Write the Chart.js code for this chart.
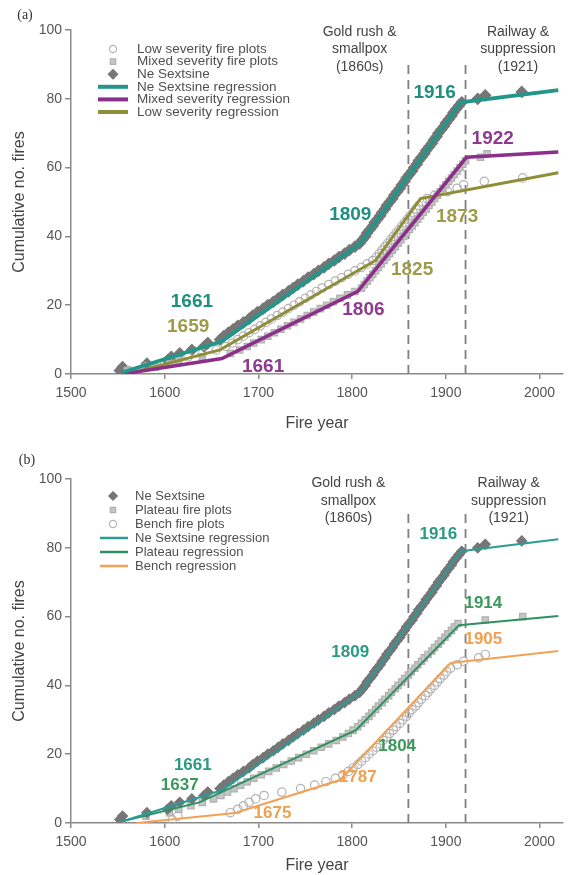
<!DOCTYPE html>
<html>
<head>
<meta charset="utf-8">
<script src="https://cdn.jsdelivr.net/npm/chart.js@4.4.1/dist/chart.umd.min.js"></script>
<style>
body{margin:0;background:#fff;}
canvas{display:block;}
</style>
</head>
<body>
<canvas id="chartA" width="572" height="437"></canvas>
<canvas id="chartB" width="572" height="438"></canvas>
<script>
'use strict';
// cumulative fire counts [fire year, cumulative no.]
var neSextsine = [[1552,1],[1555,2],[1581,3],[1603,4],[1607,5],[1616,6],[1629,7],[1642,8],[1646,9],[1659,10],
  [1663,11],[1668,12],[1673,13],[1678,14],[1684,15],[1690,16],[1694,17],[1699,18],[1705,19],[1710,20],
  [1716,21],[1721,22],[1726,23],[1732,24],[1737,25],[1742,26],[1748,27],[1753,28],[1759,29],[1764,30],
  [1770,31],[1775,32],[1781,33],[1786,34],[1792,35],[1797,36],[1803,37],[1808,38],[1811,39],[1814,40],
  [1816,41],[1819,42],[1822,43],[1824,44],[1827,45],[1830,46],[1832,47],[1835,48],[1837,49],[1840,50],
  [1843,51],[1845,52],[1848,53],[1851,54],[1853,55],[1856,56],[1858,57],[1861,58],[1864,59],[1866,60],
  [1869,61],[1871,62],[1874,63],[1877,64],[1879,65],[1882,66],[1885,67],[1887,68],[1890,69],[1892,70],
  [1895,71],[1898,72],[1900,73],[1903,74],[1906,75],[1908,76],[1911,77],[1914,78],[1917,79],[1934,80],
  [1942,81],[1981,82]];
var mixedPlots = [[1560,1],[1590,2],[1605,3],[1615,4],[1640,5],[1670,6],[1680,7],[1688,8],[1695,9],[1703,10],
  [1710,11],[1717,12],[1724,13],[1731,14],[1738,15],[1745,16],[1752,17],[1759,18],[1766,19],[1773,20],
  [1780,21],[1787,22],[1795,23],[1803,24],[1810,25],[1813,26],[1816,27],[1819,28],[1822,29],[1825,30],
  [1828,31],[1831,32],[1834,33],[1837,34],[1840,35],[1843,36],[1846,37],[1849,38],[1852,39],[1855,40],
  [1858,41],[1861,42],[1864,43],[1867,44],[1870,45],[1873,46],[1876,47],[1879,48],[1882,49],[1885,50],
  [1888,51],[1891,52],[1894,53],[1897,54],[1900,55],[1903,56],[1906,57],[1909,58],[1912,59],[1915,60],
  [1918,61],[1921,62],[1937,63],[1944,64]];
var lowPlots = [[1562,1],[1580,2],[1600,3],[1612,4],[1625,5],[1640,6],[1655,7],[1665,8],[1672,9],[1678,10],
  [1684,11],[1690,12],[1696,13],[1702,14],[1708,15],[1714,16],[1720,17],[1726,18],[1732,19],[1738,20],
  [1744,21],[1750,22],[1756,23],[1762,24],[1768,25],[1775,26],[1782,27],[1789,28],[1796,29],[1803,30],
  [1810,31],[1816,32],[1822,33],[1826,34],[1829,35],[1832,36],[1835,37],[1838,38],[1841,39],[1844,40],
  [1847,41],[1850,42],[1853,43],[1856,44],[1859,45],[1862,46],[1865,47],[1868,48],[1871,49],[1875,50],
  [1880,51],[1888,52],[1902,53],[1912,54],[1919,55],[1941,56],[1982,57]];
var plateauPlots = [[1553,1],[1580,2],[1605,3],[1615,4],[1628,5],[1640,6],[1652,7],[1660,8],[1667,9],[1674,10],
  [1681,11],[1688,12],[1695,13],[1703,14],[1711,15],[1719,16],[1727,17],[1735,18],[1743,19],[1751,20],
  [1759,21],[1767,22],[1775,23],[1783,24],[1790,25],[1796,26],[1801,27],[1806,28],[1810,29],[1814,30],
  [1818,31],[1821,32],[1825,33],[1828,34],[1832,35],[1835,36],[1839,37],[1842,38],[1846,39],[1849,40],
  [1853,41],[1856,42],[1860,43],[1863,44],[1867,45],[1870,46],[1874,47],[1877,48],[1881,49],[1885,50],
  [1888,51],[1892,52],[1895,53],[1899,54],[1902,55],[1906,56],[1909,57],[1913,58],[1942,59],[1982,60]];
var benchPlots = [[1608,1],[1614,2],[1670,3],[1678,4],[1684,5],[1690,6],[1697,7],[1706,8],[1725,9],[1745,10],
  [1760,11],[1772,12],[1782,13],[1790,14],[1796,15],[1801,16],[1806,17],[1810,18],[1814,19],[1818,20],
  [1822,21],[1826,22],[1830,23],[1833,24],[1837,25],[1840,26],[1844,27],[1847,28],[1851,29],[1854,30],
  [1858,31],[1861,32],[1864,33],[1868,34],[1871,35],[1874,36],[1878,37],[1881,38],[1884,39],[1888,40],
  [1891,41],[1894,42],[1898,43],[1901,44],[1905,45],[1912,46],[1919,47],[1935,48],[1942,49]];

// piecewise regressions [year, fitted no.]
var neReg = [[1555,0.5],[1661,9.5],[1809,38],[1916,79],[2020,82.5]];
var mixedReg = [[1555,0],[1661,4.5],[1806,24],[1922,63],[2020,64.5]];
var lowReg = [[1560,0],[1659,7],[1825,33],[1873,51],[2020,58.5]];
var plateauReg = [[1555,0.5],[1637,6],[1804,27],[1914,57.5],[2020,60.2]];
var benchReg = [[1570,0],[1675,2.9],[1787,12.5],[1905,46.5],[2020,50]];

var goldRush = [[1860,0],[1860,90]];
var railway = [[1921,0],[1921,90]];

var FONT = "'Liberation Sans', Arial, sans-serif";

function toXY(arr){
  return arr.map(function(p){ return {x: p[0], y: p[1]}; });
}

function pointSet(label, arr, style, fill, border, r){
  return {label: label, data: toXY(arr), showLine: false, pointStyle: style,
    pointRadius: r, pointBackgroundColor: fill, pointBorderColor: border,
    pointBorderWidth: 1.2, order: 3};
}
function lineSet(label, arr, color, w){
  return {label: label, data: toXY(arr), showLine: true, borderColor: color,
    borderWidth: w, pointRadius: 0, fill: false, order: 1};
}
function dashSet(arr){
  return {data: toXY(arr), showLine: true, borderColor: '#7f7f7f', borderWidth: 1.8,
    borderDash: [9, 6], pointRadius: 0, order: 5};
}

function drawMarker(ctx, style, x, y, r, fill, border){
  ctx.beginPath();
  if (style === 'rectRot') {
    ctx.moveTo(x, y - r); ctx.lineTo(x + r, y); ctx.lineTo(x, y + r); ctx.lineTo(x - r, y);
    ctx.closePath();
  } else if (style === 'rect') {
    var s = r * Math.SQRT1_2;
    ctx.rect(x - s, y - s, 2 * s, 2 * s);
  } else {
    ctx.arc(x, y, r, 0, Math.PI * 2);
  }
  ctx.fillStyle = fill; ctx.fill();
  ctx.strokeStyle = border; ctx.lineWidth = 1.2; ctx.stroke();
}

var boxLegend = {
  id: 'boxLegend',
  afterDraw: function(chart, args, opts){
    var ctx = chart.ctx;
    ctx.save();
    ctx.font = opts.font;
    ctx.textBaseline = 'middle';
    ctx.textAlign = 'left';
    var row = 0;
    chart.data.datasets.forEach(function(ds){
      if (!ds.label) return;
      var y = opts.y + row * opts.rowH;
      if (ds.showLine) {
        ctx.strokeStyle = ds.borderColor; ctx.lineWidth = opts.lineW;
        ctx.beginPath(); ctx.moveTo(opts.lineX0, y); ctx.lineTo(opts.lineX1, y); ctx.stroke();
      } else {
        drawMarker(ctx, ds.pointStyle, opts.markX, y, ds.pointRadius * 0.85, ds.pointBackgroundColor, ds.pointBorderColor);
      }
      ctx.fillStyle = '#505050';
      ctx.fillText(ds.label, opts.textX, y);
      row++;
    });
    ctx.restore();
  }
};

var notes = {
  id: 'notes',
  afterDatasetsDraw: function(chart, args, opts){
    var xs = chart.scales.x, ys = chart.scales.y, ctx = chart.ctx;
    ctx.save();
    ctx.textAlign = 'center';
    ctx.textBaseline = 'middle';
    opts.items.forEach(function(it){
      ctx.font = it.font;
      ctx.fillStyle = it.color;
      ctx.fillText(it.text, xs.getPixelForValue(it.x), ys.getPixelForValue(it.y));
    });
    ctx.font = "14px 'Liberation Serif', serif";
    ctx.fillStyle = '#333';
    ctx.fillText(opts.tag, opts.tagX, opts.tagY);
    ctx.restore();
  }
};

function makeOptions(axisH, padTop, titlePad, legendOpts, noteOpts){
  return {
    responsive: false,
    animation: false,
    devicePixelRatio: 1,
    layout: {padding: {top: padTop, right: 9, left: 0, bottom: 0}},
    plugins: {legend: {display: false}, tooltip: {enabled: false},
      boxLegend: legendOpts, notes: noteOpts},
    scales: {
      x: {type: 'linear', min: 1500, max: 2025,
        border: {color: '#8a8a8a', width: 1.5},
        grid: {drawOnChartArea: false, color: '#8a8a8a', tickLength: 5, lineWidth: 1.5},
        ticks: {stepSize: 100, includeBounds: false, color: '#555', padding: 6,
          font: {family: FONT, size: 14},
          callback: function(v){ return String(v); }},
        title: {display: true, text: 'Fire year', color: '#444',
          font: {family: FONT, size: 16}, padding: {top: 0, bottom: titlePad}},
        afterFit: function(s){ s.height = axisH; }
      },
      y: {min: 0, max: 100,
        border: {color: '#8a8a8a', width: 1.5},
        grid: {drawOnChartArea: false, color: '#8a8a8a', tickLength: 6, lineWidth: 1.5},
        ticks: {stepSize: 20, color: '#555', padding: 3, font: {family: FONT, size: 14}},
        title: {display: true, text: 'Cumulative no. fires', color: '#444',
          font: {family: FONT, size: 16}, padding: {top: 10, bottom: 0}},
        afterFit: function(s){ s.width = 71; }
      }
    }
  };
}

var BOLD = 'bold 19px ' + FONT;
var BOLD_B = 'bold 17px ' + FONT;
var TXT = '14px ' + FONT;

new Chart(document.getElementById('chartA'), {
  type: 'scatter',
  data: {datasets: [
    pointSet('Low severity fire plots', lowPlots, 'circle', 'rgba(255,255,255,0)', '#b3b3b3', 4.2),
    pointSet('Mixed severity fire plots', mixedPlots, 'rect', '#c6c6c6', '#b0b0b0', 4.5),
    pointSet('Ne Sextsine', neSextsine, 'rectRot', '#767676', '#767676', 5.5),
    lineSet('Ne Sextsine regression', neReg, '#23968a', 3.8),
    lineSet('Mixed severity regression', mixedReg, '#8c2f8a', 3.5),
    lineSet('Low severity regression', lowReg, '#8e8e3a', 3),
    dashSet(goldRush),
    dashSet(railway)
  ]},
  options: makeOptions(63, 30, 4,
    {font: '13.5px ' + FONT, y: 49, rowH: 12.6, lineX0: 98, lineX1: 128, lineW: 4, markX: 113, textX: 137},
    {tag: '(a)', tagX: 25, tagY: 15, items: [
      {text: 'Gold rush &', x: 1808, y: 99.4, color: '#444', font: TXT},
      {text: 'smallpox', x: 1808, y: 94.5, color: '#444', font: TXT},
      {text: '(1860s)', x: 1808, y: 89.2, color: '#444', font: TXT},
      {text: 'Railway &', x: 1977, y: 99.4, color: '#444', font: TXT},
      {text: 'suppression', x: 1977, y: 94.5, color: '#444', font: TXT},
      {text: '(1921)', x: 1977, y: 89.2, color: '#444', font: TXT},
      {text: '1661', x: 1629, y: 20.9, color: '#1f8f80', font: BOLD},
      {text: '1659', x: 1625, y: 13.7, color: '#9c9c4c', font: BOLD},
      {text: '1661', x: 1705, y: 2.0, color: '#8e3a8e', font: BOLD},
      {text: '1809', x: 1798, y: 46.2, color: '#1f8f80', font: BOLD},
      {text: '1806', x: 1812, y: 18.6, color: '#8e3a8e', font: BOLD},
      {text: '1825', x: 1864, y: 30.2, color: '#9c9c4c', font: BOLD},
      {text: '1873', x: 1912, y: 45.6, color: '#9c9c4c', font: BOLD},
      {text: '1916', x: 1888, y: 81.7, color: '#1f8f80', font: BOLD},
      {text: '1922', x: 1950, y: 68.3, color: '#8e3a8e', font: BOLD}
    ]})
  ,
  plugins: [boxLegend, notes]
});

new Chart(document.getElementById('chartB'), {
  type: 'scatter',
  data: {datasets: [
    pointSet('Ne Sextsine', neSextsine, 'rectRot', '#767676', '#767676', 5),
    pointSet('Plateau fire plots', plateauPlots, 'rect', '#c6c6c6', '#b0b0b0', 4.5),
    pointSet('Bench fire plots', benchPlots, 'circle', 'rgba(255,255,255,0)', '#b3b3b3', 4.2),
    lineSet('Ne Sextsine regression', neReg, '#2a9c96', 2),
    lineSet('Plateau regression', plateauReg, '#2f9160', 2),
    lineSet('Bench regression', benchReg, '#f2a155', 2),
    dashSet(goldRush),
    dashSet(railway)
  ]},
  options: makeOptions(52, 42, 0,
    {font: '13px ' + FONT, y: 59, rowH: 14, lineX0: 100, lineX1: 128, lineW: 2.5, markX: 113, textX: 135},
    {tag: '(b)', tagX: 27, tagY: 23, items: [
      {text: 'Gold rush &', x: 1796, y: 98.8, color: '#444', font: TXT},
      {text: 'smallpox', x: 1796, y: 93.6, color: '#444', font: TXT},
      {text: '(1860s)', x: 1796, y: 88.7, color: '#444', font: TXT},
      {text: 'Railway &', x: 1967, y: 98.8, color: '#444', font: TXT},
      {text: 'suppression', x: 1967, y: 93.6, color: '#444', font: TXT},
      {text: '(1921)', x: 1967, y: 88.7, color: '#444', font: TXT},
      {text: '1661', x: 1630, y: 16.9, color: '#2a9a85', font: BOLD_B},
      {text: '1637', x: 1616, y: 11.0, color: '#3a9a5c', font: BOLD_B},
      {text: '1675', x: 1715, y: 2.9, color: '#f0a050', font: BOLD_B},
      {text: '1809', x: 1798, y: 49.7, color: '#2a9a85', font: BOLD_B},
      {text: '1804', x: 1848, y: 22.4, color: '#3a9a5c', font: BOLD_B},
      {text: '1787', x: 1806, y: 13.4, color: '#f0a050', font: BOLD_B},
      {text: '1916', x: 1892, y: 84.0, color: '#2a9a85', font: BOLD_B},
      {text: '1914', x: 1940, y: 64.0, color: '#3a9a5c', font: BOLD_B},
      {text: '1905', x: 1940, y: 53.5, color: '#f0a050', font: BOLD_B}
    ]}),
  plugins: [boxLegend, notes]
});
</script>
</body>
</html>
